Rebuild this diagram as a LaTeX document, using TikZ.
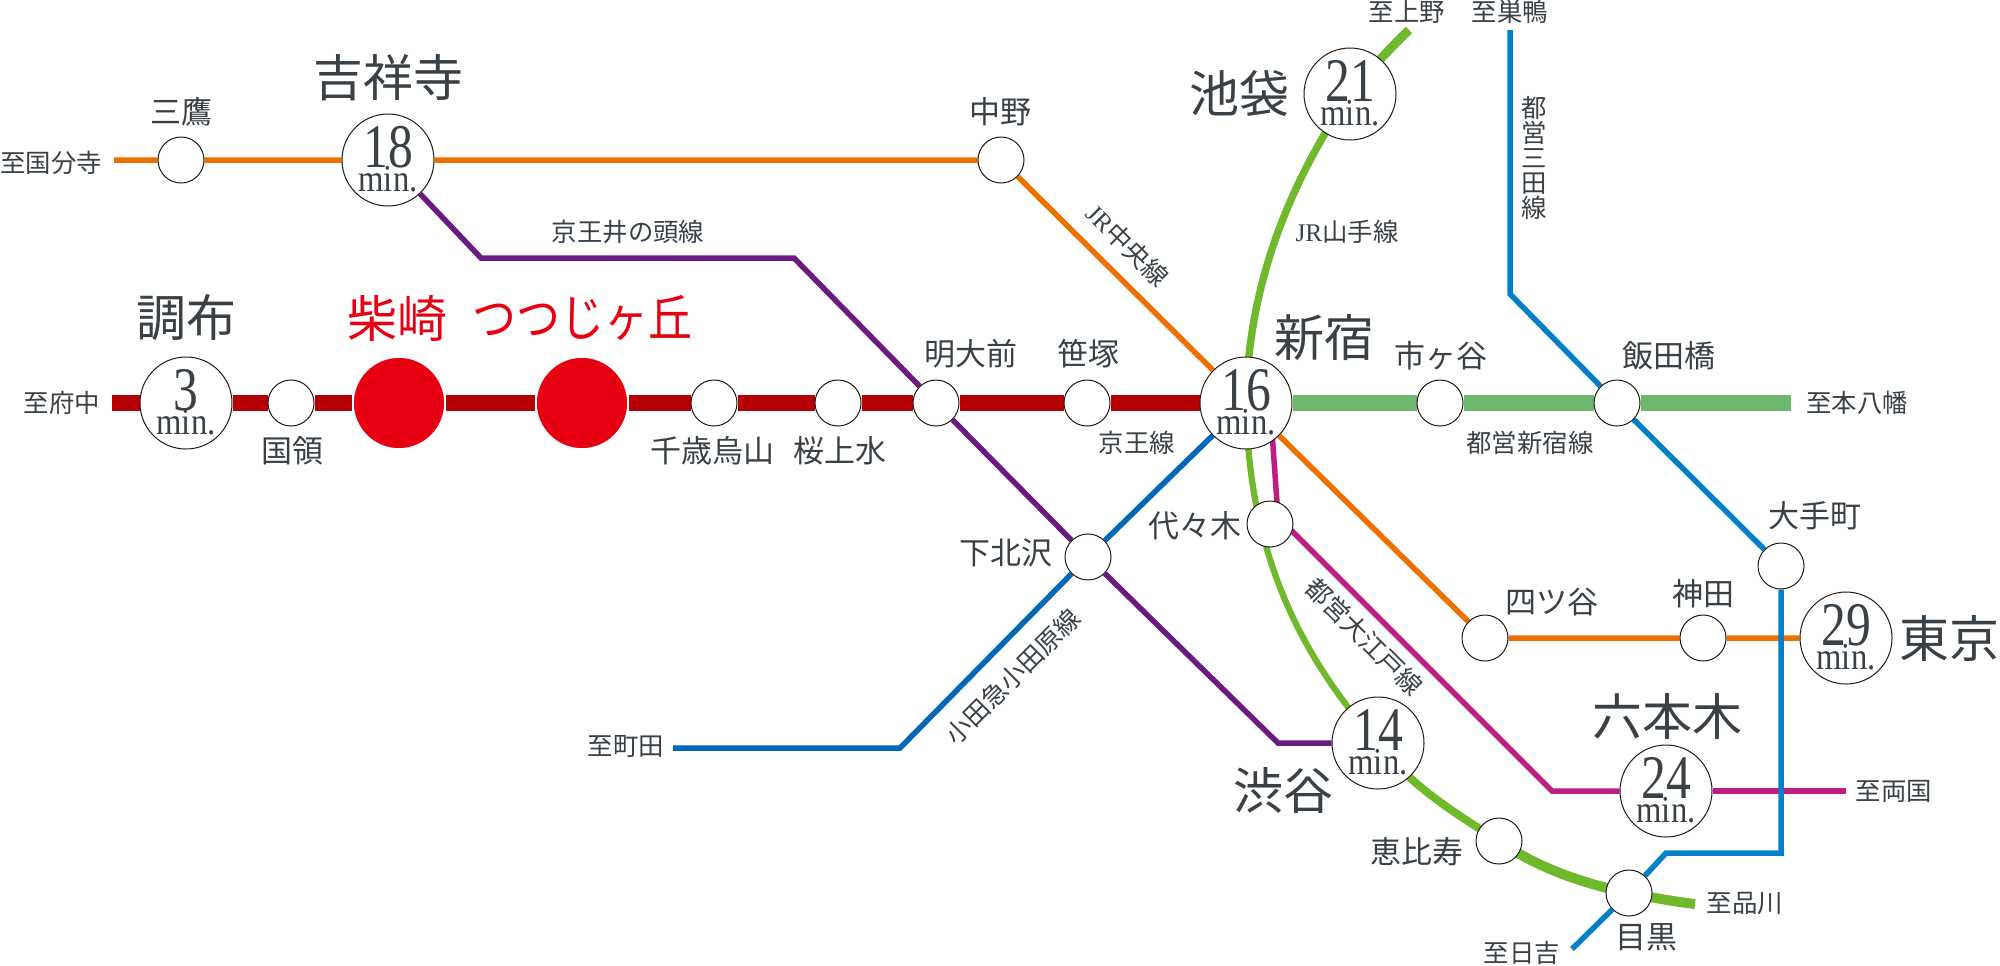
\documentclass[tikz,border=0pt]{standalone}
\usepackage{fontspec}
\setmainfont{Noto Sans CJK JP}
\newfontfamily\latinf{Liberation Serif}
\usetikzlibrary{backgrounds}
\definecolor{ink}{HTML}{3A4146}
\definecolor{ringc}{HTML}{231815}
\definecolor{hotred}{HTML}{E60012}
\definecolor{keioc}{HTML}{B50005}
\definecolor{shinjc}{HTML}{6DB86F}
\definecolor{chuoc}{HTML}{EE7000}
\definecolor{yamac}{HTML}{70B82C}
\definecolor{inokc}{HTML}{6A1B82}
\definecolor{odakc}{HTML}{0068B7}
\definecolor{mitac}{HTML}{0080C8}
\definecolor{oedoc}{HTML}{BE1E83}
\newcommand{\mintxt}[1]{\smash{\makebox[0pt]{\raisebox{-3.5pt}{\latinf\fontsize{31}{31}\selectfont\addfontfeature{FakeStretch=0.8}#1}}\makebox[0pt]{\raisebox{-15.5pt}{\latinf\fontsize{19}{19}\selectfont\addfontfeature{FakeStretch=0.86}min.}}}}
\tikzset{
  stn/.style={circle,draw=ringc,fill=white,line width=0.5pt,minimum size=23pt,inner sep=0pt},
  timest/.style={circle,draw=ringc,fill=white,line width=0.5pt,minimum size=46pt,inner sep=0pt,text=ink},
  hotst/.style={circle,draw=white,fill=hotred,line width=0.8pt,minimum size=46pt,inner sep=0pt},
  smalltxt/.style={inner sep=0pt,text=ink,font=\fontsize{12.7}{13}\selectfont},
  midtxt/.style={inner sep=0pt,text=ink,font=\fontsize{15.5}{16}\selectfont},
  bigtxt/.style={inner sep=0pt,text=ink,font=\fontsize{25}{26}\selectfont},
  redtxt/.style={inner sep=0pt,text=hotred,font=\fontsize{25}{26}\selectfont},
  fatline/.style={line width=8pt},
  thinline/.style={line width=2.75pt},
  joined/.style={line join=miter}
}
\begin{document}
\begin{tikzpicture}[x=0.5pt,y=-0.5pt]
\useasboundingbox (0,0) rectangle (2000,965);
% stations
\node[stn] (mitaka) at (181,160) {};
\node[timest] (kichi) at (388,160) {\mintxt{18}};
\node[stn] (nakano) at (1001,160) {};
\node[timest] (chofu) at (186,403) {\mintxt{3}};
\node[stn] (kokuryo) at (291,403) {};
\node[hotst] (shiba) at (399,403) {};
\node[hotst] (tsutsu) at (582,403) {};
\node[stn] (chitose) at (714,403) {};
\node[stn] (sakura) at (838,403) {};
\node[stn] (meidai) at (936,403) {};
\node[stn] (sasa) at (1087,403) {};
\node[timest] (shinjuku) at (1246,403) {\mintxt{16}};
\node[stn] (ichi) at (1440,403) {};
\node[stn] (iida) at (1617,403) {};
\node[timest] (ikebu) at (1350,94) {\mintxt{21}};
\node[stn] (yoyo) at (1270,524) {};
\node[stn] (shimo) at (1088,557) {};
\node[stn] (ote) at (1781,566) {};
\node[stn] (yotsu) at (1485,638) {};
\node[stn] (kanda) at (1703,638) {};
\node[timest] (tokyo) at (1846,638) {\mintxt{29}};
\node[timest] (shibuya) at (1378,743) {\mintxt{14}};
\node[timest] (roppo) at (1666,791) {\mintxt{24}};
\node[stn] (ebisu) at (1499,841) {};
\node[stn] (meguro) at (1629,893) {};
% free line ends and bends
\coordinate (chuoW) at (114,160);
\coordinate (inoA) at (481,258);
\coordinate (inoB) at (794,258);
\coordinate (inoC) at (1278,743);
\coordinate (keioW) at (112,403);
\coordinate (shinE) at (1791,403);
\coordinate (odaA) at (900,748);
\coordinate (odaW) at (673,748);
\coordinate (mitaN) at (1510,30);
\coordinate (mitaA) at (1510,294);
\coordinate (mitaB) at (1781,853);
\coordinate (mitaC) at (1666,853);
\coordinate (mitaS) at (1572,949);
\coordinate (oedoA) at (1272,432);
\coordinate (oedoB) at (1278,517);
\coordinate (oedoC) at (1552,791);
\coordinate (oedoE) at (1846,791);
\coordinate (yamaN) at (1409,30);
\coordinate (yamaS) at (1695,904);
\begin{pgfonlayer}{background}
  % Keio and Shinjuku lines
  \draw[keioc,fatline] (keioW) -- (chofu) -- (kokuryo) -- (shiba) -- (tsutsu) -- (chitose) -- (sakura) -- (meidai) -- (sasa) -- (shinjuku);
  \draw[shinjc,fatline] (shinjuku) -- (ichi) -- (iida) -- (shinE);
  % Chuo
  \draw[chuoc,thinline] (chuoW) -- (mitaka) -- (kichi) -- (nakano) -- (shinjuku);
  \draw[chuoc,thinline] (shinjuku) -- (yotsu) -- (kanda) -- (tokyo);
  % Yamanote with changing thickness
  \draw[yamac,line width=4.5pt] (yamaN) .. controls (1390,48) and (1370,70) .. (ikebu.center);
  \draw[yamac,line width=3.7pt] (ikebu.center) .. controls (1285,190) and (1248,290) .. (shinjuku.center);
  \draw[yamac,line width=3.1pt] (shinjuku.center) .. controls (1248,530) and (1285,640) .. (shibuya.center);
  \draw[yamac,line width=4pt] (shibuya.center) .. controls (1410,785) and (1450,810) .. (ebisu.center);
  \draw[yamac,line width=5pt] (ebisu.center) .. controls (1540,870) and (1590,885) .. (meguro.center);
  \draw[yamac,line width=5pt] (meguro.center) .. controls (1650,897) and (1670,901) .. (yamaS);
  % Inokashira
  \draw[inokc,thinline,joined] (kichi) -- (inoA) -- (inoB) -- (meidai) -- (shimo) -- (inoC) -- (shibuya);
  % Oedo
  \draw[oedoc,thinline,joined] (oedoA) -- (oedoB) -- (oedoC) -- (roppo);
  \draw[oedoc,thinline] (roppo) -- (oedoE);
  % Odakyu
  \draw[odakc,thinline,joined] (shinjuku) -- (shimo) -- (odaA) -- (odaW);
  % Mita
  \draw[mitac,thinline,joined] (mitaN) -- (mitaA) -- (iida) -- (ote) -- (mitaB) -- (mitaC) -- (meguro) -- (mitaS);
\end{pgfonlayer}
% small labels
\node[smalltxt] (t1) at (51,163) {至国分寺};
\node[smalltxt] (t2) at (628,232) {京王井の頭線};
\node[smalltxt] (t3) at (62,403) {至府中};
\node[smalltxt] (t4) at (1137,443) {京王線};
\node[smalltxt] (t5) at (1857,403) {至本八幡};
\node[smalltxt] (t6) at (1530,443) {都営新宿線};
\node[smalltxt,rotate=-45] (t7) at (1128,245) {{\latinf JR}中央線};
\node[smalltxt] (t8) at (1347,232) {{\latinf JR}山手線};
\node[smalltxt] (t9) at (1534,158) {\vbox{\baselineskip=12.4pt\lineskiplimit=-20pt\lineskip=0pt\hbox{都}\hbox{営}\hbox{三}\hbox{田}\hbox{線}}};
\node[smalltxt] (t10) at (1407,12) {至上野};
\node[smalltxt] (t11) at (1510,12) {至巣鴨};
\node[smalltxt,rotate=-45] (t12) at (1364,637) {都営大江戸線};
\node[smalltxt,rotate=45] (t13) at (1013,677) {小田急小田原線};
\node[smalltxt] (t14) at (626,746) {至町田};
\node[smalltxt] (t15) at (1894,791) {至両国};
\node[smalltxt] (t16) at (1745,903) {至品川};
\node[smalltxt] (t17) at (1522,953) {至日吉};
% middle labels
\node[midtxt] (m1) at (181,112) {三鷹};
\node[midtxt] (m2) at (1000,112) {中野};
\node[midtxt] (m3) at (292,451) {国領};
\node[midtxt] (m4) at (712,451) {千歳烏山};
\node[midtxt] (m5) at (840,451) {桜上水};
\node[midtxt] (m6) at (971,354) {明大前};
\node[midtxt] (m7) at (1088,354) {笹塚};
\node[midtxt] (m8) at (1441,356) {市ヶ谷};
\node[midtxt] (m9) at (1669,356) {飯田橋};
\node[midtxt] (m10) at (1815,516) {大手町};
\node[midtxt] (m11) at (1195,526) {代々木};
\node[midtxt] (m12) at (1006,553) {下北沢};
\node[midtxt] (m13) at (1552,602) {四ツ谷};
\node[midtxt] (m14) at (1703,594) {神田};
\node[midtxt] (m15) at (1417,852) {恵比寿};
\node[midtxt] (m16) at (1646,937) {目黒};
% big labels
\node[bigtxt] (b1) at (388,78) {吉祥寺};
\node[bigtxt] (b2) at (186,318) {調布};
\node[bigtxt] (b3) at (1324,338) {新宿};
\node[bigtxt] (b4) at (1239,94) {池袋};
\node[bigtxt] (b5) at (1949,638) {東京};
\node[bigtxt] (b6) at (1667,717) {六本木};
\node[bigtxt] (b7) at (1283,791) {渋谷};
\node[redtxt] (r1) at (397,318) {柴崎};
\node[redtxt] (r2) at (582,318) {\scalebox{0.88}[1]{つつじヶ丘}};
\end{tikzpicture}
\end{document}
